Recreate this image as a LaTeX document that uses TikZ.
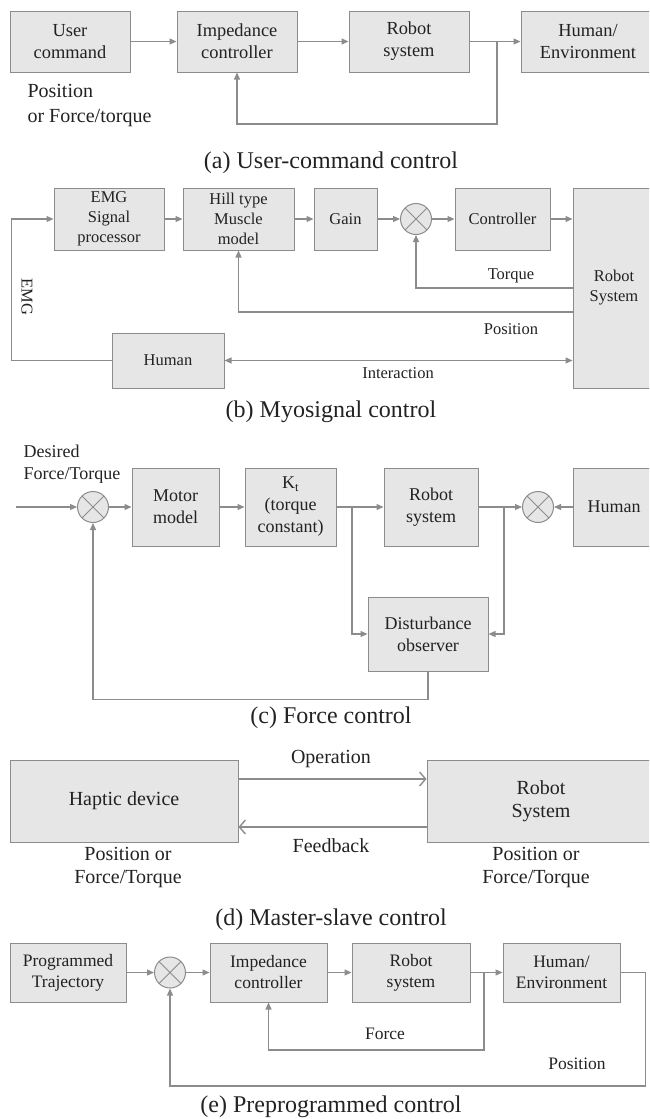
\documentclass[tikz,border=0pt]{standalone}
\usepackage{fontspec}
\setmainfont{Liberation Serif}
\usetikzlibrary{arrows.meta}
\definecolor{linegray}{HTML}{8C8C8C}
\definecolor{boxgray}{HTML}{E6E6E6}
\definecolor{txtgray}{HTML}{222222}
\begin{document}
\begin{tikzpicture}[x=1pt,y=-1pt,
    every node/.style={text=txtgray},
    blk/.style={draw=linegray,fill=boxgray,line width=1pt,inner sep=0pt,align=center},
    sumnode/.style={circle,draw=linegray,fill=boxgray,line width=1pt,minimum size=31pt,inner sep=0pt,
      path picture={\draw[linegray,line width=1pt]
        (path picture bounding box.north west) -- (path picture bounding box.south east)
        (path picture bounding box.north east) -- (path picture bounding box.south west);}},
    arr/.style={draw=linegray,line width=1.2pt,-{Triangle[length=7pt,width=6pt]}},
    opar/.style={draw=linegray,line width=1.4pt,-{Straight Barb[length=6pt,width=14pt]}},
    capt/.style={font=\fontsize{24}{28}\selectfont},
    fa/.style={font=\fontsize{18.4}{22}\selectfont},
    fla/.style={font=\fontsize{20}{25}\selectfont},
    fb/.style={font=\fontsize{16.5}{20}\selectfont},
    fc/.style={font=\fontsize{18}{22}\selectfont},
    fd/.style={font=\fontsize{20}{23}\selectfont},
    fe/.style={font=\fontsize{17.5}{21}\selectfont}]
  \useasboundingbox (0,0) rectangle (649,1119);
  \clip (0,0) rectangle (649,1119);

  % (a)
  \node[blk,fa,minimum width=120pt,minimum height=61pt] (ucmd) at (70,41.5) {User\\command};
  \node[blk,fa,minimum width=120pt,minimum height=61pt] (impa) at (237,41.5) {Impedance\\controller};
  \node[blk,fa,minimum width=120pt,minimum height=61pt] (robota) at (409,41.5) {Robot\\system};
  \node[blk,fa,minimum width=134pt,minimum height=61pt] (huma) at (588,41.5) {Human/\\Environment};
  \coordinate (fa) at (497,41.5);
  \draw[arr] (ucmd) -- (impa);
  \draw[arr] (impa) -- (robota);
  \draw[arr] (robota) -- (huma);
  \draw[arr] (fa) -- ++(0,82.5) -| (impa.south);
  \node[fla,anchor=west,align=left] (posa) at (24,105.5) {Position\\or Force/torque};
  \node[capt] (capa) at (331,163) {(a) User-command control};

  % (b)
  \node[blk,fb,minimum width=110pt,minimum height=62pt] (emgp) at (109,219) {EMG\\Signal\\processor};
  \node[blk,fb,minimum width=111pt,minimum height=62pt] (hill) at (238.5,219) {Hill type\\Muscle\\model};
  \node[blk,fb,minimum width=63pt,minimum height=62pt] (gain) at (345.5,219) {Gain};
  \node[sumnode] (sumb) at (416,219) {};
  \node[blk,fb,minimum width=95pt,minimum height=62pt] (ctrl) at (502.5,219) {Controller};
  \node[blk,fb,minimum width=82pt,minimum height=200pt] (robotb) at (614,288) {Robot\\System};
  \node[blk,fb,minimum width=112pt,minimum height=55pt] (humb) at (168,360.5) {Human};
  \coordinate (tq) at (573,288);
  \coordinate (ps) at (573,312);
  \draw[arr] (emgp) -- (hill);
  \draw[arr] (hill) -- (gain);
  \draw[arr] (gain) -- (sumb);
  \draw[arr] (sumb) -- (ctrl);
  \draw[arr] (ctrl.east) -- (ctrl.east -| robotb.west);
  \draw[arr] (tq) -| (sumb.south);
  \draw[arr] (ps) -| (hill.south);
  \draw[arr,{Triangle[length=7pt,width=6pt]}-{Triangle[length=7pt,width=6pt]}] (humb.east) -- (humb.east -| robotb.west);
  \draw[arr] (humb.west) -- ++(-100,0) |- (emgp.west);
  \node[fb] (tql) at (511,276) {Torque};
  \node[fb] (psl) at (511,329) {Position};
  \node[fb] (itl) at (398,373) {Interaction};
  \node[fb,rotate=-90] (emgl) at (27,297) {EMG};
  \node[capt] (capb) at (331,412) {(b) Myosignal control};

  % (c)
  \node[fc,anchor=west,align=left] (desl) at (20,464) {Desired\\Force/Torque};
  \coordinate (inc) at (16,507);
  \node[sumnode] (sumc) at (93,507) {};
  \node[blk,fc,minimum width=87pt,minimum height=78pt] (motor) at (175.5,507) {Motor\\model};
  \node[blk,fc,minimum width=91pt,minimum height=78pt] (kt) at (290.5,507) {K\textsubscript{t}\\(torque\\constant)};
  \node[blk,fc,minimum width=94pt,minimum height=78pt] (robotc) at (431,507) {Robot\\system};
  \node[sumnode] (sumh) at (538,507) {};
  \node[blk,fc,minimum width=82pt,minimum height=78pt] (humc) at (614,507) {Human};
  \node[blk,fc,minimum width=120pt,minimum height=74pt] (dob) at (428,634) {Disturbance\\observer};
  \coordinate (bc1) at (352,507);
  \coordinate (bc2) at (504,507);
  \draw[arr] (inc) -- (sumc);
  \draw[arr] (sumc) -- (motor);
  \draw[arr] (motor) -- (kt);
  \draw[arr] (kt) -- (robotc);
  \draw[arr] (robotc) -- (sumh);
  \draw[arr] (humc) -- (sumh);
  \draw[arr] (bc1) |- (dob.west);
  \draw[arr] (bc2) |- (dob.east);
  \draw[arr] (dob.south) -- ++(0,28) -| (sumc.south);
  \node[capt] (capc) at (331,718) {(c) Force control};

  % (d)
  \node[blk,fd,minimum width=228pt,minimum height=82pt] (hapt) at (124,801) {Haptic device};
  \node[blk,fd,minimum width=228pt,minimum height=82pt] (robotd) at (541,801) {Robot\\System};
  \draw[opar] ([yshift=22pt]hapt.east) -- ([yshift=22pt]robotd.west);
  \draw[opar] ([yshift=-26pt]robotd.west) -- ([yshift=-26pt]hapt.east);
  \node[fd] (opl) at (331,759) {Operation};
  \node[fd] (fbl) at (331,846) {Feedback};
  \node[fd,align=center] (posh) at (128,867.5) {Position or\\Force/Torque};
  \node[fd,align=center] (posr) at (536,867.5) {Position or\\Force/Torque};
  \node[capt] (capd) at (331,920) {(d) Master-slave control};

  % (e)
  \node[blk,fe,minimum width=116pt,minimum height=59pt] (prog) at (68,972.5) {Programmed\\Trajectory};
  \node[sumnode] (sume) at (170,972.5) {};
  \node[blk,fe,minimum width=117pt,minimum height=59pt] (impe) at (268.5,972.5) {Impedance\\controller};
  \node[blk,fe,minimum width=118pt,minimum height=59pt] (robote) at (411,972.5) {Robot\\system};
  \node[blk,fe,minimum width=117pt,minimum height=59pt] (hume) at (561.5,972.5) {Human/\\Environment};
  \coordinate (fe) at (484,972.5);
  \draw[arr] (prog) -- (sume);
  \draw[arr] (sume) -- (impe);
  \draw[arr] (impe) -- (robote);
  \draw[arr] (robote) -- (hume);
  \draw[arr] (fe) -- ++(0,77.5) -| (impe.south);
  \draw[arr] (hume.east) -- ++(25,0) -- ++(0,113.5) -| (sume.south);
  \node[fe] (fel) at (385,1034) {Force};
  \node[fe] (pel) at (577,1064) {Position};
  \node[capt] (cape) at (331,1107) {(e) Preprogrammed control};
\end{tikzpicture}
\end{document}
